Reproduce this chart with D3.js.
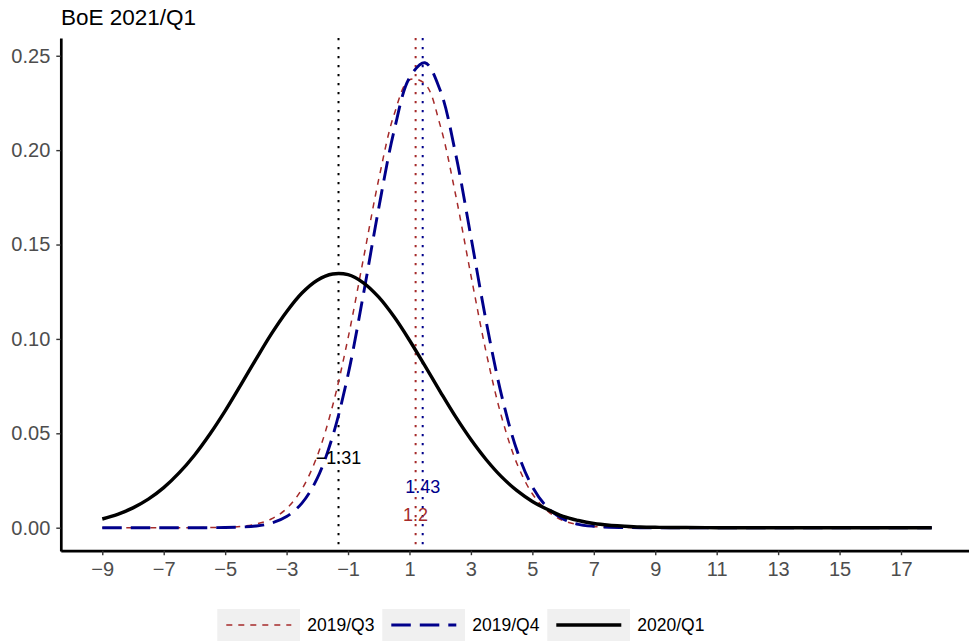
<!DOCTYPE html>
<html>
<head>
<meta charset="utf-8">
<script src="https://cdn.jsdelivr.net/npm/d3@7"></script>
<style>
  body { margin: 0; background: #fff; }
  svg { display: block; font-family: "Liberation Sans", Arial, sans-serif; }
</style>
</head>
<body>
<script>
// grid of x values the densities were read at
const xs = [-9, -8.5, -8, -7.5, -7, -6.5, -6, -5.5, -5, -4.5, -4, -3.5, -3, -2.5, -2, -1.5, -1, -0.5,
  0, 0.5, 1, 1.5, 2, 2.5, 3, 3.5, 4, 4.5, 5, 5.5, 6, 6.5, 7, 7.5, 8, 8.5, 9, 9.5, 10,
  11, 12, 13, 14, 15, 16, 17, 18];

// density values
const q3_2019 = [0, 0, 0, 0, 0, 0, 0, 0.0001, 0.0002, 0.0007, 0.0019, 0.0046, 0.0101, 0.0205, 0.0381, 0.0647, 0.1004, 0.1424,
  0.1846, 0.2189, 0.2373, 0.2352, 0.2131, 0.1765, 0.1337, 0.0926, 0.0586, 0.0339, 0.0180, 0.0087, 0.0038, 0.0016, 0.0006, 0.0002, 0.0001, 0, 0, 0, 0,
  0, 0, 0, 0, 0, 0, 0, 0];
const q4_2019 = [0, 0, 0, 0, 0, 0, 0, 0, 0.0001, 0.0003, 0.0009, 0.0024, 0.0059, 0.0130, 0.0262, 0.0485, 0.0810, 0.1236,
  0.1694, 0.2103, 0.2383, 0.2463, 0.2317, 0.1982, 0.1541, 0.1090, 0.0700, 0.0409, 0.0217, 0.0105, 0.0046, 0.0018, 0.0007, 0.0002, 0.0001, 0, 0, 0, 0,
  0, 0, 0, 0, 0, 0, 0, 0];
const q1_2020 = [0.0046, 0.0071, 0.0105, 0.0151, 0.0212, 0.0290, 0.0384, 0.0495, 0.0619, 0.0754, 0.0891, 0.1025, 0.1144, 0.1243, 0.1311, 0.1344, 0.1340, 0.1297,
  0.1221, 0.1117, 0.0993, 0.0858, 0.0721, 0.0588, 0.0467, 0.0360, 0.0269, 0.0196, 0.0139, 0.0096, 0.0060, 0.0038, 0.0022, 0.0013, 0.0008, 0.0004, 0.0002, 0.0001, 0.0001,
  0, 0, 0, 0, 0, 0, 0, 0];

const seriesNames = ['2019/Q3', '2019/Q4', '2020/Q1'];
const seriesValues = [q3_2019, q4_2019, q1_2020];
const centres = [1.2, 1.43, -1.31];
const centreLabels = ['1.2', '1.43', '\u22121.31'];
const labelY = [0.0067, 0.0217, 0.037];

const xTicks = [-9, -7, -5, -3, -1, 1, 3, 5, 7, 9, 11, 13, 15, 17];
const yTicks = [0, 0.05, 0.10, 0.15, 0.20, 0.25];

const styles = [
  { color: '#a52a2a', width: 1.5, dash: '6,6' },
  { color: '#00008b', width: 2.9, dash: '19.5,9' },
  { color: '#000000', width: 3.4, dash: null }
];

const width = 969, height = 641;

const svg = d3.select('body').append('svg')
  .attr('width', width)
  .attr('height', height);

const x = d3.scaleLinear().domain([-10.35, 19.35]).range([60.8, 973.2]);
const y = d3.scaleLinear().domain([-0.0124, 0.2594]).range([551.1, 38]);

// title
svg.append('text')
  .attr('x', 61)
  .attr('y', 25.3)
  .style('font-size', '22.5px')
  .attr('fill', '#000')
  .text('BoE 2021/Q1');

// vertical dotted lines at the centres
svg.append('g').selectAll('line')
  .data(centres)
  .enter().append('line')
  .attr('x1', d => x(d))
  .attr('x2', d => x(d))
  .attr('y1', y.range()[1])
  .attr('y2', y.range()[0])
  .attr('stroke', (d, i) => styles[i].color)
  .attr('stroke-width', 2)
  .attr('stroke-dasharray', '2.2,6.8');

// density curves
const line = d3.line()
  .x(d => x(d[0]))
  .y(d => y(d[1]))
  .curve(d3.curveCatmullRom);

svg.append('g').selectAll('path')
  .data(seriesValues)
  .enter().append('path')
  .attr('d', vals => line(xs.map((xv, j) => [xv, vals[j]])))
  .attr('fill', 'none')
  .attr('stroke', (d, i) => styles[i].color)
  .attr('stroke-width', (d, i) => styles[i].width)
  .attr('stroke-dasharray', (d, i) => styles[i].dash);

// centre labels
svg.append('g').selectAll('text')
  .data(centres)
  .enter().append('text')
  .attr('x', d => x(d))
  .attr('y', (d, i) => y(labelY[i]))
  .attr('dy', '0.35em')
  .attr('text-anchor', 'middle')
  .style('font-size', '18px')
  .attr('fill', (d, i) => styles[i].color)
  .text((d, i) => centreLabels[i]);

// axes
const xAxis = svg.append('g')
  .attr('transform', `translate(0,${y.range()[0] - 0.4})`)
  .call(d3.axisBottom(x).tickValues(xTicks).tickSizeInner(4.5).tickSizeOuter(0).tickPadding(6.6));

const yAxis = svg.append('g')
  .attr('transform', `translate(${x.range()[0]},0)`)
  .call(d3.axisLeft(y).tickValues(yTicks).tickFormat(d3.format('.2f')).tickSizeInner(4.5).tickSizeOuter(0).tickPadding(6));

[xAxis, yAxis].forEach(ax => {
  ax.select('.domain').attr('stroke', '#000').attr('stroke-width', 2.7);
  ax.selectAll('.tick line').attr('stroke', '#333').attr('stroke-width', 1.4);
  ax.selectAll('.tick text')
    .attr('fill', '#4d4d4d')
    .style('font-size', '20px')
    .style('font-family', '"Liberation Sans", Arial, sans-serif');
});

// legend
const legend = svg.append('g').attr('transform', 'translate(217.3,609)');
const item = legend.selectAll('g')
  .data(seriesNames)
  .enter().append('g')
  .attr('transform', (d, i) => `translate(${i * 165},0)`);

item.append('rect')
  .attr('width', 82.7)
  .attr('height', 34)
  .attr('fill', '#f0f0f0');

item.append('line')
  .attr('x1', 9)
  .attr('x2', 74)
  .attr('y1', 16)
  .attr('y2', 16)
  .attr('stroke', (d, i) => styles[i].color)
  .attr('stroke-width', (d, i) => styles[i].width)
  .attr('stroke-dasharray', (d, i) => styles[i].dash);

item.append('text')
  .attr('x', 90)
  .attr('y', 16)
  .attr('dy', '0.35em')
  .style('font-size', '17.5px')
  .attr('fill', '#000')
  .text(d => d);
</script>
</body>
</html>
